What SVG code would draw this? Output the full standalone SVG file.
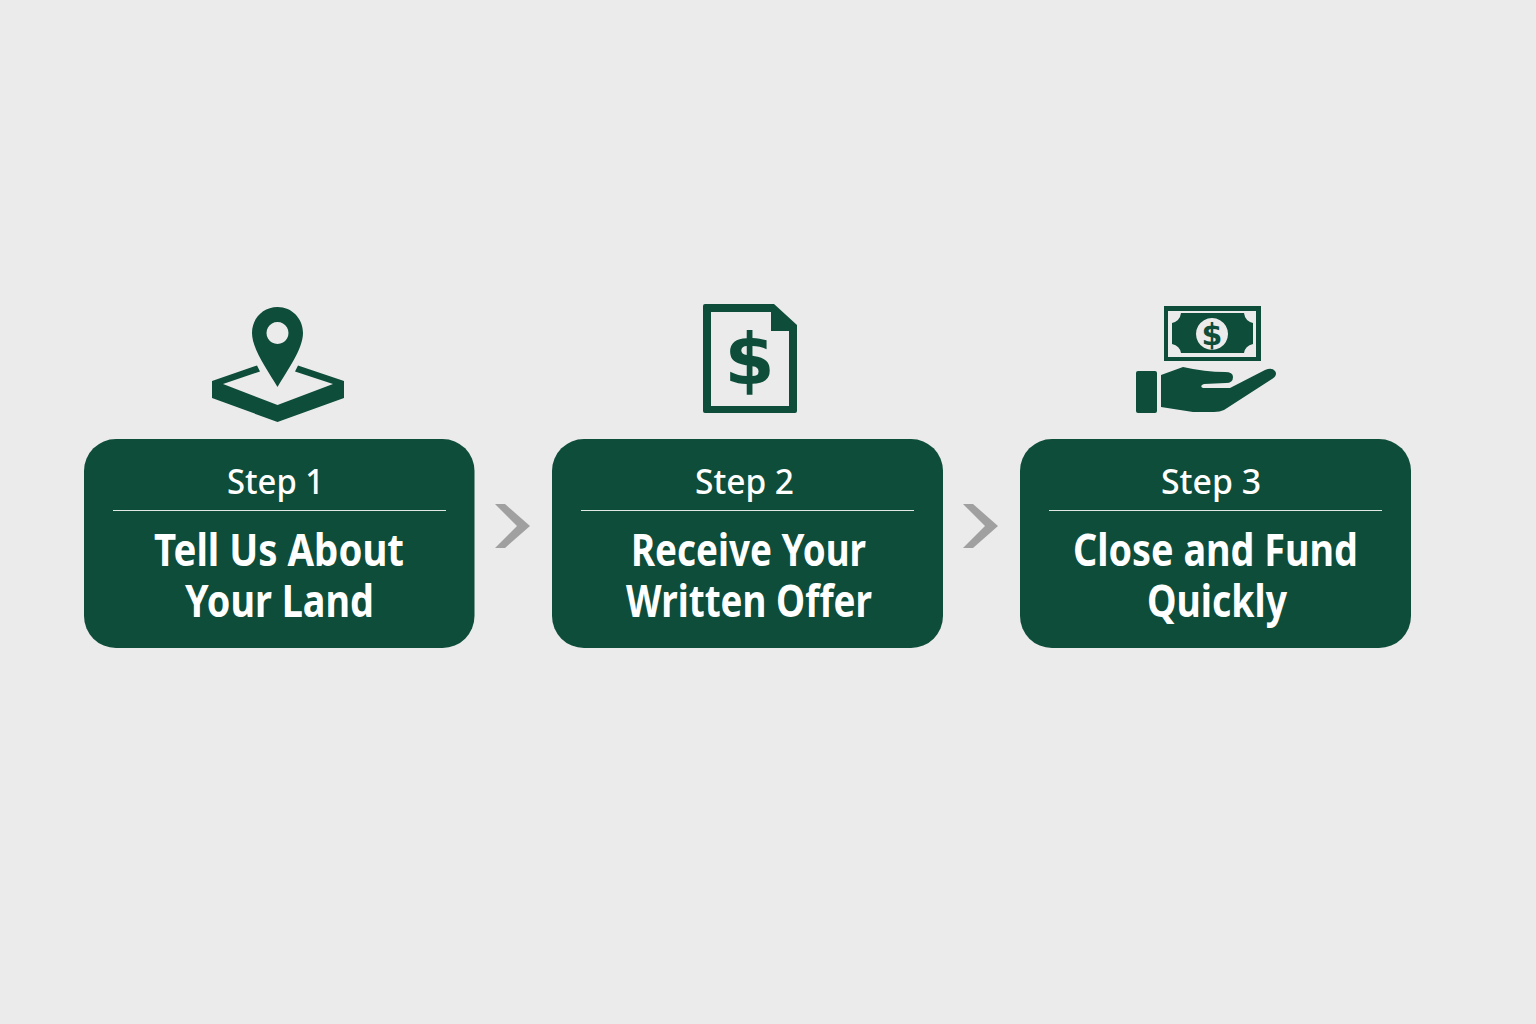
<svg xmlns="http://www.w3.org/2000/svg" width="1536" height="1024" viewBox="0 0 1536 1024">
<style>
.box{fill:#0d4d3a}
.icon{fill:#0d4d3a}
.rule{stroke:#dfe8e3;stroke-width:1.2}
.step{font-family:"Noto Sans","Open Sans",sans-serif;font-size:34px;font-weight:500;fill:#fff}
.title{font-family:"Noto Sans","Open Sans",sans-serif;font-size:44px;font-weight:700;fill:#fff}
.chev{fill:#a0a0a0}
.dollar{font-family:"DejaVu Sans",sans-serif;font-weight:700;text-anchor:middle}
</style>
<rect width="1536" height="1024" fill="#ebebeb"/>
<g id="connectors">
<polygon class="chev" points="495,504 505,504 530,526 505,548 495,548 517,526"/>
<polygon class="chev" points="963,504 973,504 998,526 973,548 963,548 985,526"/>
</g>
<g id="step1">
<path class="icon" fill-rule="evenodd" d="M277.5,307C263,307 252,318.500 252,333C252,349 268,371 277.500,387C287,371 303,349 303,333C303,318.500 292,307 277.500,307ZM277.500,322A11,11 0 1 1 277.499,322Z"/>
<path class="icon" d="M257,365.500L260,371.500L223,384L277.500,405L333,384L295,371.500L298,365.500L344,381V398L277.500,422L212,398V381Z"/>
<rect class="box" x="84" y="439" width="390.500" height="209" rx="32"/>
<line class="rule" x1="113" y1="510.500" x2="446" y2="510.500"/>
<text class="step" x="227" y="494" textLength="97" lengthAdjust="spacingAndGlyphs">Step 1</text>
<text class="title" x="154" y="566" textLength="250" lengthAdjust="spacingAndGlyphs">Tell Us About</text>
<text class="title" x="185" y="617" textLength="189" lengthAdjust="spacingAndGlyphs">Your Land</text>
</g>
<g id="step2">
<path class="icon" fill-rule="evenodd" d="M705,304H774L797,325V411Q797,413 795,413H705Q703,413 703,411V306Q703,304 705,304ZM711,312V406H789V331H771V312Z"/>
<text class="dollar icon" x="749.500" y="384" font-size="72">$</text>
<rect class="box" x="552" y="439" width="391" height="209" rx="32"/>
<line class="rule" x1="581" y1="510.500" x2="914" y2="510.500"/>
<text class="step" x="695" y="494" textLength="99" lengthAdjust="spacingAndGlyphs">Step 2</text>
<text class="title" x="631" y="566" textLength="235" lengthAdjust="spacingAndGlyphs">Receive Your</text>
<text class="title" x="626" y="617" textLength="246" lengthAdjust="spacingAndGlyphs">Written Offer</text>
</g>
<g id="step3">
<path class="icon" fill-rule="evenodd" d="M1164,306H1261V361H1164ZM1168,311V357H1256V311Z"/>
<path class="icon" fill-rule="evenodd" d="M1181,313H1244Q1245,321 1253,323V344Q1245,346 1244,353H1181Q1180,346 1172,344V323Q1180,321 1181,313ZM1212,318A16,16 0 1 0 1212.010,318Z"/>
<text class="dollar icon" x="1212" y="345" font-size="30">$</text>
<rect class="icon" x="1136" y="371" width="21" height="42" rx="2"/>
<path class="icon" d="M1161,375L1183,367Q1205,372 1225,372Q1233,372 1233,377Q1233,383 1226,383L1204,384Q1199,386 1203,388L1230,388L1265,370Q1272,367 1275,371Q1278,375 1272,379L1224,410Q1220,412 1214,412L1193,412L1161,407Z"/>
<rect class="box" x="1020" y="439" width="391" height="209" rx="32"/>
<line class="rule" x1="1049" y1="510.500" x2="1382" y2="510.500"/>
<text class="step" x="1161" y="494" textLength="100" lengthAdjust="spacingAndGlyphs">Step 3</text>
<text class="title" x="1073" y="566" textLength="285" lengthAdjust="spacingAndGlyphs">Close and Fund</text>
<text class="title" x="1147" y="617" textLength="140" lengthAdjust="spacingAndGlyphs">Quickly</text>
</g>
</svg>
